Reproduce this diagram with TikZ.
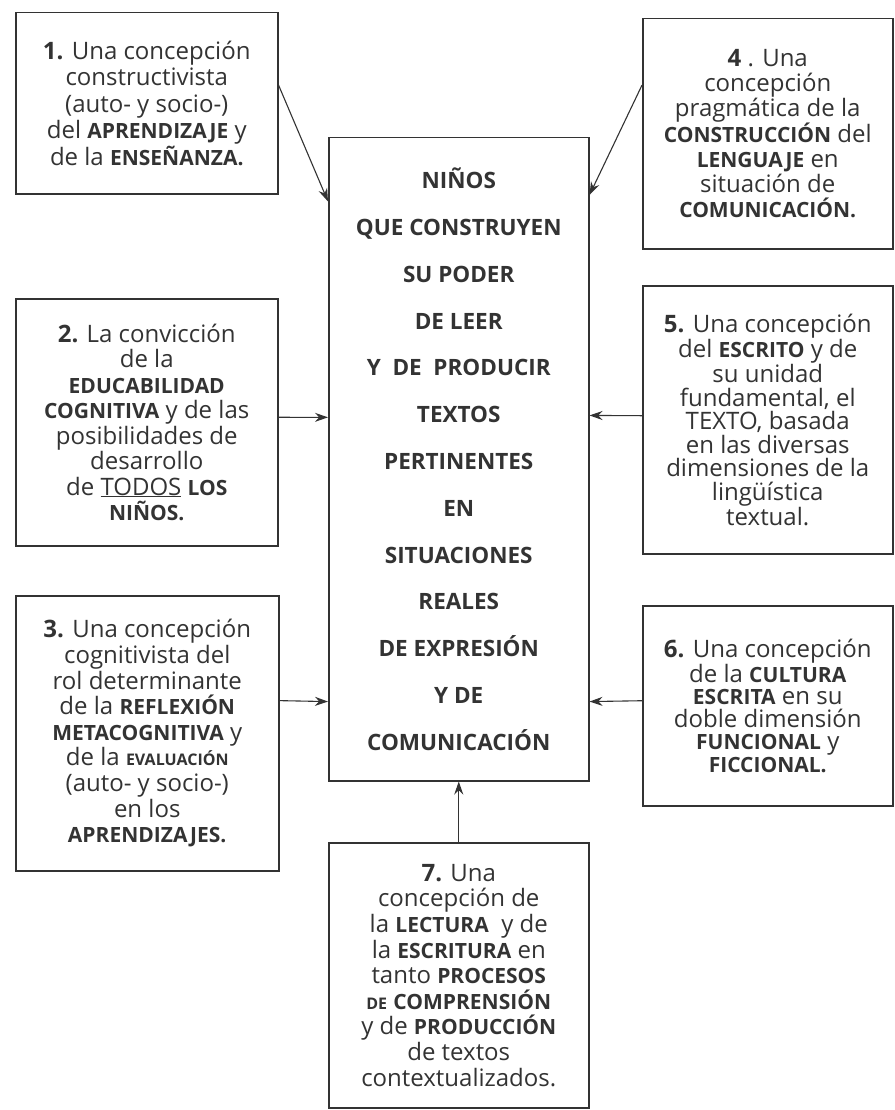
\documentclass[tikz,border=0pt]{standalone}
\usepackage{fontspec}
\setmainfont{Open Sans}
\usetikzlibrary{calc,arrows.meta}
\definecolor{ink}{HTML}{333333}
\newcommand\bc[1]{{\bfseries\fontsize{21}{\the\baselineskip}\selectfont #1}}
\newcommand\sco[1]{{\bfseries\fontsize{16}{\the\baselineskip}\selectfont #1}}
\begin{document}
\begin{tikzpicture}[x=1pt,y=-1pt,
  box/.style={draw=ink, line width=1.5pt, anchor=north west, align=center, inner sep=0pt, text=ink},
  conn/.style={draw=ink, line width=1.1pt, -{Stealth[length=13pt,width=9pt]}}]
\useasboundingbox (0,0) rectangle (894,1110);
\fill[white] (0,0) rectangle (894,1110);

\node[box, minimum width=262, minimum height=181, font=\fontsize{24}{26.5}\selectfont] (b1) at (15,12)
  {{\bfseries 1.} Una concepción\\constructivista\\(auto- y socio-)\\del \bc{APRENDIZAJE} y\\de la \bc{ENSEÑANZA.}};

\node[box, minimum width=250, minimum height=230, font=\fontsize{24}{25}\selectfont] (b4) at (642,18)
  {{\bfseries 4} . Una\\concepción\\pragmática de la\\\bc{CONSTRUCCIÓN} del\\\bc{LENGUAJE} en\\situación de\\\bc{COMUNICACIÓN.}};

\node[box, minimum width=262, minimum height=247, font=\fontsize{24}{25.5}\selectfont] (b2) at (15,298)
  {{\bfseries 2.} La convicción\\de la\\\bc{EDUCABILIDAD}\\\bc{COGNITIVA} y de las\\posibilidades de\\desarrollo\\de \underline{TODOS} \bc{LOS}\\\bc{NIÑOS.}};

\node[box, minimum width=250, minimum height=268, font=\fontsize{24}{23.5}\selectfont] (b5) at (642,285)
  {{\bfseries 5.} Una concepción\\del \bc{ESCRITO} y de\\su unidad\\fundamental, el\\TEXTO, basada\\en las diversas\\dimensiones de la\\lingüística\\textual.};

\node[box, minimum width=263, minimum height=275, font=\fontsize{24}{25.6}\selectfont] (b3) at (15,595)
  {{\bfseries 3.} Una concepción\\cognitivista del\\rol determinante\\de la \bc{REFLEXIÓN}\\\bc{METACOGNITIVA} y\\de la \sco{EVALUACIÓN}\\(auto- y socio-)\\en los\\\bc{APRENDIZAJES.}};

\node[box, minimum width=250, minimum height=200, font=\fontsize{24}{22.5}\selectfont] (b6) at (642,605)
  {{\bfseries 6.} Una concepción\\de la \bc{CULTURA}\\\bc{ESCRITA} en su\\doble dimensión\\\bc{FUNCIONAL} y\\\bc{FICCIONAL.}};

\node[box, minimum width=260, minimum height=265, font=\fontsize{24}{25.6}\selectfont] (b7) at (328,842)
  {{\bfseries 7.} Una\\concepción de\\la \bc{LECTURA}\ \ y de\\la \bc{ESCRITURA} en\\tanto \bc{PROCESOS}\\\sco{DE} \bc{COMPRENSIÓN}\\y de \bc{PRODUCCIÓN}\\de textos\\contextualizados.};

\node[box, minimum width=260, minimum height=643, font=\bfseries\fontsize{22.5}{46.8}\selectfont] (c) at (328,137)
  {NIÑOS\\QUE CONSTRUYEN\\SU PODER\\DE LEER\\Y \ DE \ PRODUCIR\\TEXTOS\\PERTINENTES\\EN\\SITUACIONES\\REALES\\DE EXPRESIÓN\\Y DE\\COMUNICACIÓN};

\draw[conn] ($(b1.north east)!0.40!(b1.south east)$) -- ($(c.north west)!0.10!(c.south west)$);
\draw[conn] ($(b4.north west)!0.29!(b4.south west)$) -- ($(c.north east)!0.09!(c.south east)$);
\draw[conn] ($(b2.north east)!0.48!(b2.south east)$) -- ($(c.north west)!0.435!(c.south west)$);
\draw[conn] ($(b5.north west)!0.485!(b5.south west)$) -- ($(c.north east)!0.432!(c.south east)$);
\draw[conn] ($(b3.north east)!0.382!(b3.south east)$) -- ($(c.north west)!0.876!(c.south west)$);
\draw[conn] ($(b6.north west)!0.475!(b6.south west)$) -- ($(c.north east)!0.876!(c.south east)$);
\draw[conn] (b7.north) -- (c.south);
\end{tikzpicture}
\end{document}
